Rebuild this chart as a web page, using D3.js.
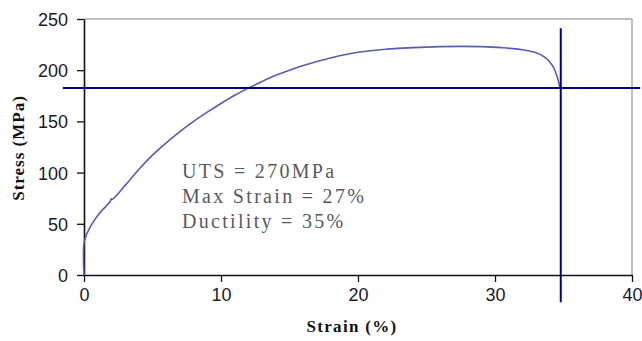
<!DOCTYPE html>
<html>
<head>
<meta charset="utf-8">
<script src="https://cdn.jsdelivr.net/npm/d3@7/dist/d3.min.js"></script>
<style>
html,body{margin:0;padding:0;background:#fff;}
svg{display:block;}
</style>
</head>
<body>
<svg id="chart" width="642" height="341"></svg>
<script>
// Data
const strain = [0, 0, 0.2, 0.5, 1.17, 1.9, 2.0, 2.06, 3, 4, 5, 6, 7, 8, 9, 10, 11, 12, 13, 14, 15, 16, 17, 18, 19, 20, 22, 24, 26, 27.5, 29, 30.5, 32, 33, 33.6, 34.0, 34.3, 34.5, 34.65, 34.75];
const stress = [0, 31, 40, 48, 61, 71.5, 74.5, 73.8, 87.5, 103, 117, 129, 140, 150, 159, 167.5, 175.5, 182.5, 189, 195, 200, 204.5, 208.5, 212, 215, 217.5, 220.5, 222, 223, 223.3, 223, 222, 220, 217, 213, 208, 202, 195, 188, 182];
const xTicks = [0, 10, 20, 30, 40];
const yTicks = [0, 50, 100, 150, 200, 250];
const refStress = 182.6;      // horizontal line
const refStrain = 34.8;       // vertical line (ductility)
const annotations = ["UTS = 270MPa", "Max Strain = 27%", "Ductility = 35%"];
const xLabel = "Strain (%)";
const yLabel = "Stress (MPa)";

const svg = d3.select("#chart");
const L = 84, R = 632, T = 19, B = 275;
const x = d3.scaleLinear().domain([0, 40]).range([L, R]);
const y = d3.scaleLinear().domain([0, 250]).range([B, T]);

// gray frame top/right
svg.append("line").attr("x1", L).attr("x2", R).attr("y1", T).attr("y2", T)
  .attr("stroke", "#aaaaaa").attr("stroke-width", 1.5);
svg.append("line").attr("x1", R).attr("x2", R).attr("y1", T).attr("y2", B)
  .attr("stroke", "#aaaaaa").attr("stroke-width", 1.5);

// axes
const fontTick = "'Liberation Sans', Arial, sans-serif";
const xAxis = svg.append("g").attr("transform", `translate(0,${B})`)
  .call(d3.axisBottom(x).tickValues(xTicks).tickSize(7).tickSizeOuter(0).tickPadding(6));
const yAxis = svg.append("g").attr("transform", `translate(${L},0)`)
  .call(d3.axisLeft(y).tickValues(yTicks).tickSize(7).tickSizeOuter(0).tickPadding(9));
[xAxis, yAxis].forEach(g => {
  g.select(".domain").attr("stroke", "#111").attr("stroke-width", 1.6);
  g.selectAll(".tick line").attr("stroke", "#111").attr("stroke-width", 1.3);
  g.selectAll(".tick text").attr("fill", "#1a1a2a").attr("font-family", fontTick).attr("font-size", 18);
});
yAxis.selectAll(".tick text").attr("dy", "0.36em");

// curve
const line = d3.line().x((d, i) => x(strain[i])).y((d, i) => y(stress[i]))
  .curve(d3.curveCatmullRom.alpha(0.5));
svg.append("path").datum(stress).attr("d", line)
  .attr("fill", "none").attr("stroke", "#5a5ab8").attr("stroke-width", 1.6);

// reference lines
svg.append("line").attr("x1", x(-1.55)).attr("x2", x(40.6))
  .attr("y1", y(refStress)).attr("y2", y(refStress))
  .attr("stroke", "#000080").attr("stroke-width", 2);
svg.append("line").attr("x1", x(refStrain)).attr("x2", x(refStrain))
  .attr("y1", y(241)).attr("y2", y(-26.5))
  .attr("stroke", "#000080").attr("stroke-width", 2);

// annotation text
const serif = "'Liberation Serif', 'Times New Roman', serif";
svg.append("g").selectAll("text").data(annotations).join("text")
  .attr("x", 182).attr("y", (d, i) => 178 + i * 25)
  .attr("font-family", serif).attr("font-size", 20)
  .attr("letter-spacing", 2.3)
  .attr("fill", "#5a5a5a").text(d => d);

// axis labels
svg.append("text").attr("x", 352).attr("y", 332).attr("text-anchor", "middle")
  .attr("font-family", serif).attr("font-weight", "bold").attr("font-size", 17)
  .attr("letter-spacing", 1.3).attr("fill", "#111").text(xLabel);
svg.append("text").attr("transform", "translate(24,148) rotate(-90)").attr("text-anchor", "middle")
  .attr("font-family", serif).attr("font-weight", "bold").attr("font-size", 17)
  .attr("letter-spacing", 1).attr("fill", "#111").text(yLabel);
</script>
</body>
</html>
